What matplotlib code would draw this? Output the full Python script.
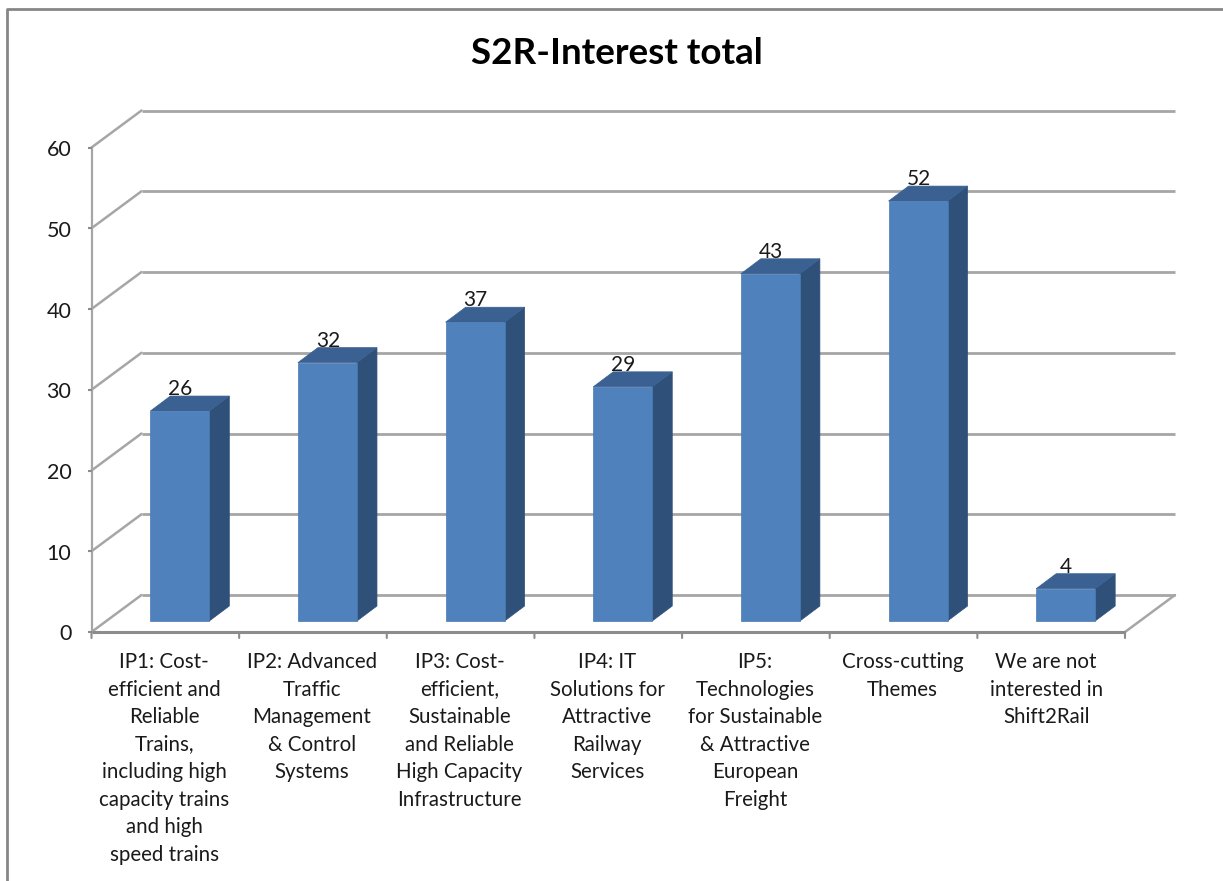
import matplotlib
matplotlib.use("Agg")
import matplotlib.pyplot as plt
from matplotlib.patches import Polygon, Rectangle
from matplotlib.transforms import Affine2D, IdentityTransform

categories = [
    "IP1: Cost-\nefficient and\nReliable\nTrains,\nincluding high\ncapacity trains\nand high\nspeed trains",
    "IP2: Advanced\nTraffic\nManagement\n& Control\nSystems",
    "IP3: Cost-\nefficient,\nSustainable\nand Reliable\nHigh Capacity\nInfrastructure",
    "IP4: IT\nSolutions for\nAttractive\nRailway\nServices",
    "IP5:\nTechnologies\nfor Sustainable\n& Attractive\nEuropean\nFreight",
    "Cross-cutting\nThemes",
    "We are not\ninterested in\nShift2Rail",
]
values = [26, 32, 37, 29, 43, 52, 4]
y_ticks = [0, 10, 20, 30, 40, 50, 60]
title = "S2R-Interest total"

W, H = 1223, 881
plt.rcParams["font.family"] = ["Lato", "DejaVu Sans"]
fig = plt.figure(figsize=(W / 100, H / 100), dpi=100, facecolor="white")

x0, x1, y0, y60 = 91.5, 1125, 632, 147.5
ax = fig.add_axes([x0 / W, 1 - y0 / H, (x1 - x0) / W, (y0 - y60) / H])
ax.set_xlim(0, len(values))
ax.set_ylim(0, 60)
ax.patch.set_visible(False)
ax.axis("off")

GRID = "#a6a6a6"
AXC = "#8c8c8c"
FRONT = "#4f81bd"
SIDE = "#2f5079"
TOP = "#3a6192"
TEXT = "#1a1a1a"


def shifted(dx, dy):
    return ax.transData + Affine2D().translate(dx, dy)


def connector(xy_from, xy_to, trans_to, color, lw, zorder):
    ax.annotate("", xy=xy_to, xycoords=trans_to, xytext=xy_from, textcoords="data",
                arrowprops=dict(arrowstyle="-", color=color, lw=lw, shrinkA=0, shrinkB=0),
                zorder=zorder)


n = len(values)
back = shifted(50, 37)
for t in y_ticks:
    ax.plot([0, n], [t, t], transform=back, color=GRID, lw=2.0, clip_on=False,
            solid_capstyle="butt", zorder=1)
    connector((0, t), (0, t), back, GRID, 1.8, 1)
    ax.plot([0, -0.027], [t, t], color=AXC, lw=1.5, clip_on=False, solid_capstyle="butt", zorder=3)
    ax.text(-0.137, t, str(t), transform=shifted(0, -2.5), ha="right", va="center",
            fontsize=15.5, color=TEXT)

# floor right edge
connector((n, 0), (n, 0), back, GRID, 1.8, 1)

# axes lines
ax.plot([0, 0], [0, 60], color=GRID, lw=1.6, clip_on=False, zorder=2)
ax.plot([0, n], [0, 0], color=AXC, lw=2.2, clip_on=False, solid_capstyle="butt", zorder=2)
for i in range(n + 1):
    ax.annotate("", xy=(i, 0), xycoords="data", xytext=(0, -6), textcoords="offset pixels",
                arrowprops=dict(arrowstyle="-", color=AXC, lw=1.5, shrinkA=0, shrinkB=0), zorder=2)

# bars
bw = 59 / (x1 - x0) * n
fx, fy = 14.5, 11  # front face offset from front axis (px)
dx, dy = 20, 15    # bar depth (px)
front = shifted(fx, fy)
pixels = IdentityTransform()
for i, v in enumerate(values):
    l, r = i + 0.5 - bw / 2, i + 0.5 + bw / 2
    ax.add_patch(Rectangle((l, 0), bw, v, transform=front, fc=FRONT, ec="#4a7ab3", lw=0.5,
                           clip_on=False, zorder=5))
    p = front.transform
    off = (dx, dy)
    side = [p((r, 0)), p((r, v)), p((r, v)) + off, p((r, 0)) + off]
    top = [p((l, v)), p((r, v)), p((r, v)) + off, p((l, v)) + off]
    ax.add_patch(Polygon(side, closed=True, transform=pixels, fc=SIDE, ec=SIDE, lw=0.5, zorder=4))
    ax.add_patch(Polygon(top, closed=True, transform=pixels, fc=TOP, ec=TOP, lw=0.5, zorder=4))
    ax.text(i + 0.5, v, str(v), transform=shifted(fx + 0.5, fy + dy - 3), ha="center", va="bottom",
            fontsize=15, color=TEXT, zorder=6)

# category labels (the last one sits a little left of its slot in the reference)
for i, c in enumerate(categories):
    nudge = -5 if i == n - 1 else -1
    ax.text(i + 0.5, 0, c, transform=shifted(nudge, -20), ha="center", va="top", fontsize=14.8,
            color=TEXT, linespacing=1.47)

# chart border: left and top edges only, the right edge is cropped away
fig.add_artist(plt.Line2D([7 / W, 7 / W, 1], [0, 1 - 9 / H, 1 - 9 / H], color="#868686", lw=2.0))
fig.text(617 / W, 1 - 53 / H, title, ha="center", va="center", fontsize=26.5,
         fontweight="bold", color="black")

fig.savefig("out.png", dpi=100)
